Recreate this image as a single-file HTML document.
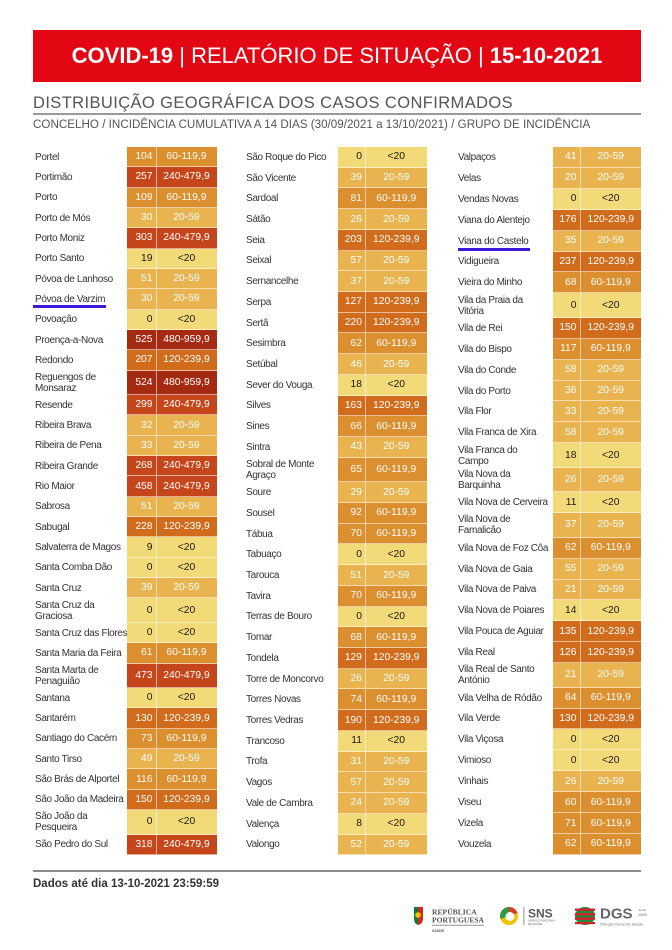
<!DOCTYPE html>
<html><head><meta charset="utf-8">
<style>
*{box-sizing:border-box;margin:0;padding:0}
body{width:672px;height:950px;background:#fff;position:relative;overflow:hidden;font-family:"Liberation Sans",sans-serif}
.banner{position:absolute;left:33px;top:30px;width:608px;height:52px;background:#e30613;color:#fff;font-size:22px;line-height:52px;text-align:center;white-space:nowrap}
.banner b{font-weight:bold}
.h1{position:absolute;left:33px;top:94.8px;font-size:16.5px;line-height:16.5px;letter-spacing:0.4px;color:#555;white-space:nowrap}
.hl{position:absolute;left:33px;top:113px;width:608px;height:2px;background:#9a9a9a}
.h2{position:absolute;left:33px;top:118.8px;font-size:11.65px;line-height:11.5px;color:#555;white-space:nowrap}
.col{position:absolute;top:147px;height:708px;display:flex;flex-direction:column}
.r{display:flex;flex:1 1 0;min-height:0}
.r.t{flex:0 0 24.5px}
.n{display:flex;align-items:center;padding-left:2px;font-size:10px;letter-spacing:-0.35px;line-height:11px;color:#333;white-space:nowrap;overflow:hidden}
.v,.g{display:flex;align-items:center;font-size:10.3px;color:#fff;border-bottom:1px solid rgba(255,255,255,.55);white-space:nowrap}
.v{justify-content:flex-end;padding-right:3px;border-right:1px solid rgba(255,255,255,.55)}
.g{justify-content:center}
#c1{left:33px}#c1 .n{width:94px}#c1 .v{width:29.5px}#c1 .g{width:60px}
#c2{left:244px}#c2 .n{width:93.5px}#c2 .v{width:28.5px}#c2 .g{width:60.5px}
#c3{left:456px}#c3 .n{width:96.5px}#c3 .v{width:28px}#c3 .g{width:60.5px}
.a{background:#f3da78;color:#1a1a1a!important}
.b{background:#e9b450}
.c{background:#dc8f2f}
.d{background:#d26c1d}
.e{background:#c5461b}
.f{background:#a52a12}
.blue{position:absolute;height:3px;background:#3b17dc}
.fl{position:absolute;left:33px;top:870px;width:608px;height:1.5px;background:#8a8a8a}
.ft{position:absolute;left:33px;top:879px;font-size:11.5px;line-height:11.5px;font-weight:bold;color:#333;white-space:nowrap}
</style></head><body>
<div class="banner"><b>COVID-19</b> | RELATÓRIO DE SITUAÇÃO | <b>15-10-2021</b></div>
<div class="h1">DISTRIBUIÇÃO GEOGRÁFICA DOS CASOS CONFIRMADOS</div>
<div class="hl"></div>
<div class="h2">CONCELHO / INCIDÊNCIA CUMULATIVA A 14 DIAS (30/09/2021 a 13/10/2021) / GRUPO DE INCIDÊNCIA</div>

<div class="col" id="c1">
<div class="r"><div class="n">Portel</div><div class="v c">104</div><div class="g c">60-119,9</div></div>
<div class="r"><div class="n">Portimão</div><div class="v e">257</div><div class="g e">240-479,9</div></div>
<div class="r"><div class="n">Porto</div><div class="v c">109</div><div class="g c">60-119,9</div></div>
<div class="r"><div class="n">Porto de Mós</div><div class="v b">30</div><div class="g b">20-59</div></div>
<div class="r"><div class="n">Porto Moniz</div><div class="v e">303</div><div class="g e">240-479,9</div></div>
<div class="r"><div class="n">Porto Santo</div><div class="v a">19</div><div class="g a">&lt;20</div></div>
<div class="r"><div class="n">Póvoa de Lanhoso</div><div class="v b">51</div><div class="g b">20-59</div></div>
<div class="r"><div class="n">Póvoa de Varzim</div><div class="v b">30</div><div class="g b">20-59</div></div>
<div class="r"><div class="n">Povoação</div><div class="v a">0</div><div class="g a">&lt;20</div></div>
<div class="r"><div class="n">Proença-a-Nova</div><div class="v f">525</div><div class="g f">480-959,9</div></div>
<div class="r"><div class="n">Redondo</div><div class="v d">207</div><div class="g d">120-239,9</div></div>
<div class="r t"><div class="n">Reguengos de<br>Monsaraz</div><div class="v f">524</div><div class="g f">480-959,9</div></div>
<div class="r"><div class="n">Resende</div><div class="v e">299</div><div class="g e">240-479,9</div></div>
<div class="r"><div class="n">Ribeira Brava</div><div class="v b">32</div><div class="g b">20-59</div></div>
<div class="r"><div class="n">Ribeira de Pena</div><div class="v b">33</div><div class="g b">20-59</div></div>
<div class="r"><div class="n">Ribeira Grande</div><div class="v e">268</div><div class="g e">240-479,9</div></div>
<div class="r"><div class="n">Rio Maior</div><div class="v e">458</div><div class="g e">240-479,9</div></div>
<div class="r"><div class="n">Sabrosa</div><div class="v b">51</div><div class="g b">20-59</div></div>
<div class="r"><div class="n">Sabugal</div><div class="v d">228</div><div class="g d">120-239,9</div></div>
<div class="r"><div class="n">Salvaterra de Magos</div><div class="v a">9</div><div class="g a">&lt;20</div></div>
<div class="r"><div class="n">Santa Comba Dão</div><div class="v a">0</div><div class="g a">&lt;20</div></div>
<div class="r"><div class="n">Santa Cruz</div><div class="v b">39</div><div class="g b">20-59</div></div>
<div class="r t"><div class="n">Santa Cruz da<br>Graciosa</div><div class="v a">0</div><div class="g a">&lt;20</div></div>
<div class="r"><div class="n">Santa Cruz das Flores</div><div class="v a">0</div><div class="g a">&lt;20</div></div>
<div class="r"><div class="n">Santa Maria da Feira</div><div class="v c">61</div><div class="g c">60-119,9</div></div>
<div class="r t"><div class="n">Santa Marta de<br>Penaguião</div><div class="v e">473</div><div class="g e">240-479,9</div></div>
<div class="r"><div class="n">Santana</div><div class="v a">0</div><div class="g a">&lt;20</div></div>
<div class="r"><div class="n">Santarém</div><div class="v d">130</div><div class="g d">120-239,9</div></div>
<div class="r"><div class="n">Santiago do Cacém</div><div class="v c">73</div><div class="g c">60-119,9</div></div>
<div class="r"><div class="n">Santo Tirso</div><div class="v b">49</div><div class="g b">20-59</div></div>
<div class="r"><div class="n">São Brás de Alportel</div><div class="v c">116</div><div class="g c">60-119,9</div></div>
<div class="r"><div class="n">São João da Madeira</div><div class="v d">150</div><div class="g d">120-239,9</div></div>
<div class="r t"><div class="n">São João da<br>Pesqueira</div><div class="v a">0</div><div class="g a">&lt;20</div></div>
<div class="r"><div class="n">São Pedro do Sul</div><div class="v e">318</div><div class="g e">240-479,9</div></div>
</div>

<div class="col" id="c2">
<div class="r"><div class="n">São Roque do Pico</div><div class="v a">0</div><div class="g a">&lt;20</div></div>
<div class="r"><div class="n">São Vicente</div><div class="v b">39</div><div class="g b">20-59</div></div>
<div class="r"><div class="n">Sardoal</div><div class="v c">81</div><div class="g c">60-119,9</div></div>
<div class="r"><div class="n">Sátão</div><div class="v b">26</div><div class="g b">20-59</div></div>
<div class="r"><div class="n">Seia</div><div class="v d">203</div><div class="g d">120-239,9</div></div>
<div class="r"><div class="n">Seixal</div><div class="v b">57</div><div class="g b">20-59</div></div>
<div class="r"><div class="n">Sernancelhe</div><div class="v b">37</div><div class="g b">20-59</div></div>
<div class="r"><div class="n">Serpa</div><div class="v d">127</div><div class="g d">120-239,9</div></div>
<div class="r"><div class="n">Sertã</div><div class="v d">220</div><div class="g d">120-239,9</div></div>
<div class="r"><div class="n">Sesimbra</div><div class="v c">62</div><div class="g c">60-119,9</div></div>
<div class="r"><div class="n">Setúbal</div><div class="v b">46</div><div class="g b">20-59</div></div>
<div class="r"><div class="n">Sever do Vouga</div><div class="v a">18</div><div class="g a">&lt;20</div></div>
<div class="r"><div class="n">Silves</div><div class="v d">163</div><div class="g d">120-239,9</div></div>
<div class="r"><div class="n">Sines</div><div class="v c">66</div><div class="g c">60-119,9</div></div>
<div class="r"><div class="n">Sintra</div><div class="v b">43</div><div class="g b">20-59</div></div>
<div class="r t"><div class="n">Sobral de Monte<br>Agraço</div><div class="v c">65</div><div class="g c">60-119,9</div></div>
<div class="r"><div class="n">Soure</div><div class="v b">29</div><div class="g b">20-59</div></div>
<div class="r"><div class="n">Sousel</div><div class="v c">92</div><div class="g c">60-119,9</div></div>
<div class="r"><div class="n">Tábua</div><div class="v c">70</div><div class="g c">60-119,9</div></div>
<div class="r"><div class="n">Tabuaço</div><div class="v a">0</div><div class="g a">&lt;20</div></div>
<div class="r"><div class="n">Tarouca</div><div class="v b">51</div><div class="g b">20-59</div></div>
<div class="r"><div class="n">Tavira</div><div class="v c">70</div><div class="g c">60-119,9</div></div>
<div class="r"><div class="n">Terras de Bouro</div><div class="v a">0</div><div class="g a">&lt;20</div></div>
<div class="r"><div class="n">Tomar</div><div class="v c">68</div><div class="g c">60-119,9</div></div>
<div class="r"><div class="n">Tondela</div><div class="v d">129</div><div class="g d">120-239,9</div></div>
<div class="r"><div class="n">Torre de Moncorvo</div><div class="v b">26</div><div class="g b">20-59</div></div>
<div class="r"><div class="n">Torres Novas</div><div class="v c">74</div><div class="g c">60-119,9</div></div>
<div class="r"><div class="n">Torres Vedras</div><div class="v d">190</div><div class="g d">120-239,9</div></div>
<div class="r"><div class="n">Trancoso</div><div class="v a">11</div><div class="g a">&lt;20</div></div>
<div class="r"><div class="n">Trofa</div><div class="v b">31</div><div class="g b">20-59</div></div>
<div class="r"><div class="n">Vagos</div><div class="v b">57</div><div class="g b">20-59</div></div>
<div class="r"><div class="n">Vale de Cambra</div><div class="v b">24</div><div class="g b">20-59</div></div>
<div class="r"><div class="n">Valença</div><div class="v a">8</div><div class="g a">&lt;20</div></div>
<div class="r"><div class="n">Valongo</div><div class="v b">52</div><div class="g b">20-59</div></div>
</div>

<div class="col" id="c3">
<div class="r"><div class="n">Valpaços</div><div class="v b">41</div><div class="g b">20-59</div></div>
<div class="r"><div class="n">Velas</div><div class="v b">20</div><div class="g b">20-59</div></div>
<div class="r"><div class="n">Vendas Novas</div><div class="v a">0</div><div class="g a">&lt;20</div></div>
<div class="r"><div class="n">Viana do Alentejo</div><div class="v d">176</div><div class="g d">120-239,9</div></div>
<div class="r"><div class="n">Viana do Castelo</div><div class="v b">35</div><div class="g b">20-59</div></div>
<div class="r"><div class="n">Vidigueira</div><div class="v d">237</div><div class="g d">120-239,9</div></div>
<div class="r"><div class="n">Vieira do Minho</div><div class="v c">68</div><div class="g c">60-119,9</div></div>
<div class="r t"><div class="n">Vila da Praia da<br>Vitória</div><div class="v a">0</div><div class="g a">&lt;20</div></div>
<div class="r"><div class="n">Vila de Rei</div><div class="v d">150</div><div class="g d">120-239,9</div></div>
<div class="r"><div class="n">Vila do Bispo</div><div class="v c">117</div><div class="g c">60-119,9</div></div>
<div class="r"><div class="n">Vila do Conde</div><div class="v b">58</div><div class="g b">20-59</div></div>
<div class="r"><div class="n">Vila do Porto</div><div class="v b">36</div><div class="g b">20-59</div></div>
<div class="r"><div class="n">Vila Flor</div><div class="v b">33</div><div class="g b">20-59</div></div>
<div class="r"><div class="n">Vila Franca de Xira</div><div class="v b">58</div><div class="g b">20-59</div></div>
<div class="r t"><div class="n">Vila Franca do<br>Campo</div><div class="v a">18</div><div class="g a">&lt;20</div></div>
<div class="r t"><div class="n">Vila Nova da<br>Barquinha</div><div class="v b">26</div><div class="g b">20-59</div></div>
<div class="r"><div class="n">Vila Nova de Cerveira</div><div class="v a">11</div><div class="g a">&lt;20</div></div>
<div class="r t"><div class="n">Vila Nova de<br>Famalicão</div><div class="v b">37</div><div class="g b">20-59</div></div>
<div class="r"><div class="n">Vila Nova de Foz Côa</div><div class="v c">62</div><div class="g c">60-119,9</div></div>
<div class="r"><div class="n">Vila Nova de Gaia</div><div class="v b">55</div><div class="g b">20-59</div></div>
<div class="r"><div class="n">Vila Nova de Paiva</div><div class="v b">21</div><div class="g b">20-59</div></div>
<div class="r"><div class="n">Vila Nova de Poiares</div><div class="v a">14</div><div class="g a">&lt;20</div></div>
<div class="r"><div class="n">Vila Pouca de Aguiar</div><div class="v d">135</div><div class="g d">120-239,9</div></div>
<div class="r"><div class="n">Vila Real</div><div class="v d">126</div><div class="g d">120-239,9</div></div>
<div class="r t"><div class="n">Vila Real de Santo<br>António</div><div class="v b">21</div><div class="g b">20-59</div></div>
<div class="r"><div class="n">Vila Velha de Ródão</div><div class="v c">64</div><div class="g c">60-119,9</div></div>
<div class="r"><div class="n">Vila Verde</div><div class="v d">130</div><div class="g d">120-239,9</div></div>
<div class="r"><div class="n">Vila Viçosa</div><div class="v a">0</div><div class="g a">&lt;20</div></div>
<div class="r"><div class="n">Vimioso</div><div class="v a">0</div><div class="g a">&lt;20</div></div>
<div class="r"><div class="n">Vinhais</div><div class="v b">26</div><div class="g b">20-59</div></div>
<div class="r"><div class="n">Viseu</div><div class="v c">60</div><div class="g c">60-119,9</div></div>
<div class="r"><div class="n">Vizela</div><div class="v c">71</div><div class="g c">60-119,9</div></div>
<div class="r"><div class="n">Vouzela</div><div class="v c">62</div><div class="g c">60-119,9</div></div>
</div>

<div class="blue" style="left:33px;top:304.5px;width:73px"></div>
<div class="blue" style="left:458px;top:248px;width:72px"></div>

<div class="fl"></div>
<div class="ft">Dados até dia 13-10-2021 23:59:59</div>

<svg style="position:absolute;left:0;top:0" width="672" height="950">
  <path d="M414 907 h9 v11 q0 6 -5 7 q-4 -1 -4 -7 z" fill="#0b7a3b"/>
  <path d="M418 907 h5 v11 q0 6 -5 7 z" fill="#d7261e"/>
  <circle cx="418" cy="915" r="2.8" fill="#f5c400"/>
  <text x="432" y="914.5" font-family="Liberation Serif,serif" font-weight="bold" font-size="7.6" fill="#555">REPÚBLICA</text>
  <text x="432" y="922.5" font-family="Liberation Serif,serif" font-weight="bold" font-size="7.6" fill="#555" textLength="52" lengthAdjust="spacingAndGlyphs">PORTUGUESA</text>
  <rect x="432" y="924.8" width="52" height="0.8" fill="#777"/>
  <text x="432" y="932" font-family="Liberation Sans,sans-serif" font-weight="bold" font-size="3.5" fill="#555">SAÚDE</text>
  <circle cx="509" cy="916" r="9" fill="#f2c200"/>
  <path d="M509 907 A9 9 0 0 0 500.5 919 L509 916 Z" fill="#2e9a45"/>
  <path d="M509 907 A9 9 0 0 1 517.5 913 L509 916 Z" fill="#e03a2a"/>
  <circle cx="510" cy="916.5" r="4.5" fill="#fff"/>
  <rect x="523.5" y="907" width="0.8" height="18" fill="#777"/>
  <text x="528" y="917.5" font-family="Liberation Sans,sans-serif" font-weight="bold" font-size="12" fill="#5a5a5a">SNS</text>
  <text x="528" y="921.5" font-family="Liberation Sans,sans-serif" font-size="2.8" fill="#666">SERVIÇO NACIONAL</text>
  <text x="528" y="925" font-family="Liberation Sans,sans-serif" font-size="2.8" fill="#666">DE SAÚDE</text>
  <ellipse cx="585" cy="916" rx="10" ry="9" fill="#1d8a3c"/>
  <rect x="575" y="908.5" width="20" height="2.4" fill="#d2232a"/>
  <rect x="575" y="913" width="20" height="2.4" fill="#d2232a"/>
  <rect x="575" y="917.5" width="20" height="2.4" fill="#d2232a"/>
  <rect x="575" y="922" width="20" height="2.2" fill="#d2232a"/>
  <text x="600" y="918.5" font-family="Liberation Sans,sans-serif" font-weight="bold" font-size="15" fill="#666">DGS</text>
  <text x="638" y="911" font-family="Liberation Sans,sans-serif" font-size="3" fill="#777">desde</text>
  <text x="638" y="916" font-family="Liberation Sans,sans-serif" font-size="4" fill="#777">1899</text>
  <text x="600" y="925.5" font-family="Liberation Sans,sans-serif" font-size="4" fill="#777">Direção-Geral da Saúde</text>
</svg>
</body></html>
